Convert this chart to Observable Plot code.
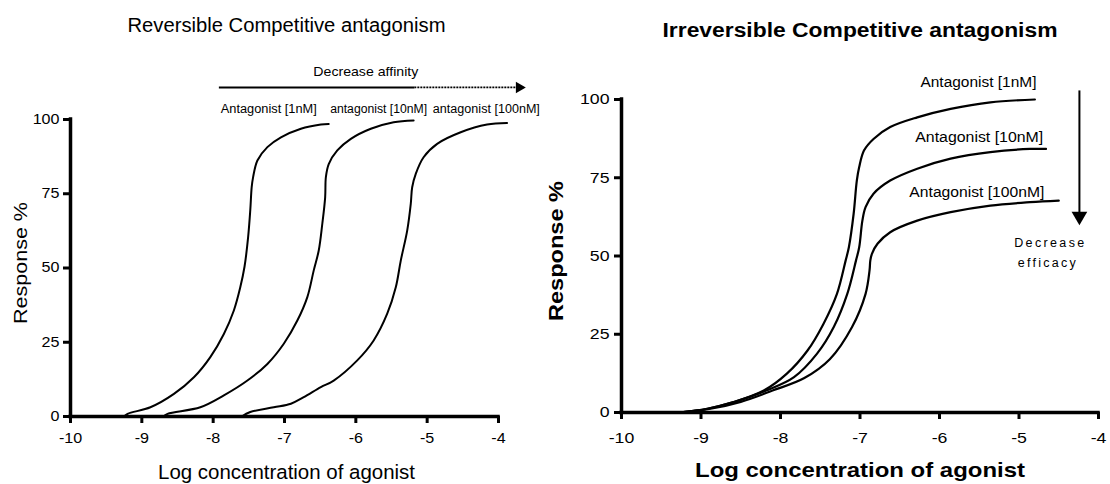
<!DOCTYPE html>
<html><head><meta charset="utf-8">
<script src="https://cdn.jsdelivr.net/npm/d3@7"></script>
<script src="https://cdn.jsdelivr.net/npm/@observablehq/plot@0.6"></script>
<style>
body{margin:0;background:#fff;}
#wrap{position:relative;width:1110px;height:484px;overflow:hidden;background:#fff;}
#left{position:absolute;left:0;top:0;}
#right{position:absolute;left:540px;top:0;}
svg{overflow:visible;}
</style></head><body><div id="wrap"><div id="left"></div><div id="right"></div></div>
<script>
// ---- data: reversible competitive antagonism ----
const revSeries = ["1nM", "10nM", "100nM"];
const revX1 = [-9.25,-9.2,-8.88,-8.55,-8.27,-8.04,-7.85,-7.71,-7.62,-7.56,-7.51,-7.48,-7.46,-7.44,-7.38,-7.24,-7.05,-6.77,-6.49,-6.38];
const revY1 = [0,0.9,3.1,7.6,13.2,20.0,27.8,35.7,43.5,50.5,60.4,69.4,77.2,80.6,86.2,90.7,94,96.9,98.3,98.5];
const revX2 = [-8.7,-8.64,-8.18,-7.85,-7.52,-7.24,-7.01,-6.82,-6.68,-6.59,-6.52,-6.47,-6.43,-6.42,-6.38,-6.26,-6.07,-5.79,-5.47,-5.19];
const revY2 = [0,0.9,3.1,7.1,12.1,17.7,24.5,32.3,40.2,49.2,55.9,64.9,73.8,80.6,85.0,89.6,93.5,96.9,99.1,99.7];
const revX3 = [-7.6,-7.48,-7.15,-6.91,-6.73,-6.49,-6.31,-5.98,-5.75,-5.56,-5.44,-5.37,-5.28,-5.23,-5.21,-5.16,-5.05,-4.86,-4.53,-4.16,-3.88];
const revY3 = [0,1.5,3.1,4.3,6.5,9.9,12.1,18.9,25.6,34.6,43.5,52.5,62.6,71.6,77.2,81.7,87.3,91.8,95.7,98.3,98.8];
const revLabels = ["Antagonist [1nM]", "antagonist [10nM]", "antagonist [100nM]"];

// ---- data: irreversible competitive antagonism ----
const irrSeries = ["1nM", "10nM", "100nM"];
const irrX1 = [-9.28,-8.92,-8.59,-8.21,-7.92,-7.66,-7.46,-7.29,-7.18,-7.14,-7.08,-7.04,-7.01,-6.95,-6.83,-6.62,-6.28,-5.86,-5.36,-4.80];
const irrY1 = [0,1.2,3.3,7.0,12.4,19.8,28.3,37.9,48.6,52.8,63.5,74.1,78.4,83.7,87.4,91.2,94.3,97.0,99.1,100];
const irrX2 = [-9.28,-8.92,-8.59,-8.18,-7.83,-7.54,-7.33,-7.16,-7.05,-7.01,-6.97,-6.93,-6.83,-6.62,-6.28,-5.86,-5.36,-4.86,-4.66];
const irrY2 = [0,1.2,3.3,7.0,11.3,18.8,27.3,37.9,48.6,52.8,61.3,65.6,69.9,74.1,77.9,81.1,83.2,84.2,84.2];
const irrX3 = [-9.28,-8.88,-8.5,-8.1,-7.7,-7.38,-7.1,-6.93,-6.88,-6.87,-6.85,-6.78,-6.62,-6.28,-5.86,-5.36,-4.86,-4.50];
const irrY3 = [0,1.2,3.4,7.0,11.0,17.0,27.3,37.9,45.4,48.6,50.7,53.9,57.6,61.3,64.0,66.1,67.2,67.7];
const irrLabels = ["Antagonist [1nM]", "Antagonist [10nM]", "Antagonist [100nM]"];

// ---- axes ----
const xTicks = [-10,-9,-8,-7,-6,-5,-4];
const yTicks = [0,25,50,75,100];

function rows(series, xs, ys) {
  const out = [];
  series.forEach((s, i) => xs[i].forEach((x, j) => out.push({series: s, x, y: ys[i][j]})));
  return out;
}
const revRows = rows(revSeries, [revX1, revX2, revX3], [revY1, revY2, revY3]);
const irrRows = rows(irrSeries, [irrX1, irrX2, irrX3], [irrY1, irrY2, irrY3]);

// annotation anchor positions (data units)
const revLabelPos = [{x:-7.22,y:103.7},{x:-5.68,y:103.7},{x:-4.17,y:103.7}];
const irrLabelPos = [{x:-5.51,y:105.4},{x:-5.50,y:87.9},{x:-5.53,y:70.3}];

const FONT = '"Liberation Sans",Arial,Helvetica,sans-serif';
const fmt = d => String(d);

// axis frame: thick axis lines + outward ticks, drawn from the scales
function axisFrame(fs, pad) {
  return [
    Plot.ruleX([-10], {y1: 0, y2: 100, strokeWidth: 3.5, strokeLinecap: "square"}),
    Plot.ruleY([0], {x1: -10, x2: -4, strokeWidth: 3.5, strokeLinecap: "square"}),
    Plot.ruleY(yTicks, {y: d => d, x1: -10, x2: -10, insetLeft: -7, strokeWidth: 3}),
    Plot.ruleX(xTicks, {x: d => d, y1: 0, y2: 0, insetBottom: -7, strokeWidth: 3}),
    Plot.axisX({ticks: xTicks, tickFormat: fmt, tickSize: 0, fontSize: fs, tickPadding: pad.x, label: null, className: "xtl"}),
    Plot.axisY({ticks: yTicks, tickFormat: fmt, tickSize: 0, fontSize: fs, tickPadding: pad.y, label: null, className: "ytl"})
  ];
}

// horizontal stretch of text (reference glyphs are wide)
function stretch(svg, selector, spec, adjust = "spacingAndGlyphs") {
  d3.select(svg).selectAll(selector).each(function(d, i) {
    const nat = this.getComputedTextLength();
    const L = Array.isArray(spec) ? spec[Math.min(i, spec.length - 1)] : nat * spec;
    d3.select(this).attr("textLength", L).attr("lengthAdjust", adjust);
  });
}

const leftPlot = Plot.plot({
  width: 540, height: 484,
  marginLeft: 70, marginRight: 42, marginTop: 119, marginBottom: 68,
  style: {fontFamily: FONT, background: "white", color: "black", overflow: "visible"},
  x: {domain: [-10, -4]},
  y: {domain: [0, 100]},
  marks: [
    Plot.line(revRows, {x: "x", y: "y", z: "series", stroke: "black", strokeWidth: 2, curve: "catmull-rom"}),
    ...axisFrame(14, {x: 17, y: 11}),
    Plot.text(["Reversible Competitive antagonism"], {frameAnchor: "top", lineAnchor: "middle", dy: -94, dx: 2, fontSize: 20, className: "t-title"}),
    Plot.text(["Response %"], {frameAnchor: "left", textAnchor: "middle", lineAnchor: "middle", rotate: -90, dx: -49, dy: -5, fontSize: 18, className: "t-ylab"}),
    Plot.text(["Log concentration of agonist"], {frameAnchor: "bottom", lineAnchor: "middle", dy: 56, dx: 2, fontSize: 20.5, className: "t-xlab"}),
    Plot.text(revLabels, {x: (d, i) => revLabelPos[i].x, y: (d, i) => revLabelPos[i].y, text: d => d, fontSize: 12.5, className: "t-lab"}),
    Plot.text(["Decrease affinity"], {x: -5.86, y: 116.2, fontSize: 13.5, className: "t-dec"}),
    Plot.link([0], {x1: -7.92, x2: -5.18, y1: 110.8, y2: 110.8, strokeWidth: 2}),
    Plot.link([0], {x1: -5.18, x2: -3.74, y1: 110.8, y2: 110.8, strokeWidth: 1.6, strokeDasharray: "2,1"}),
    Plot.dot([0], {x: -3.71, y: 110.8, symbol: "triangle2", r: 5.5, fill: "black", rotate: 90})
  ]
});
document.getElementById("left").appendChild(leftPlot);
stretch(leftPlot, ".t-title text", [318]);
stretch(leftPlot, ".t-ylab text", [122]);
stretch(leftPlot, ".t-xlab text", [257]);
stretch(leftPlot, ".t-lab text", [96, 97, 107]);
stretch(leftPlot, ".t-dec text", [105]);
stretch(leftPlot, ".xtl text, .ytl text", 1.15);

const rightPlot = Plot.plot({
  width: 570, height: 484,
  marginLeft: 81, marginRight: 12, marginTop: 99, marginBottom: 72,
  style: {fontFamily: FONT, background: "white", color: "black", overflow: "visible"},
  x: {domain: [-10, -4]},
  y: {domain: [0, 100]},
  marks: [
    Plot.line(irrRows, {x: "x", y: "y", z: "series", stroke: "black", strokeWidth: 2.2, curve: "catmull-rom"}),
    ...axisFrame(15, {x: 20, y: 12}),
    Plot.text(["Irreversible Competitive antagonism"], {frameAnchor: "top", lineAnchor: "middle", dy: -69, fontSize: 20, fontWeight: "bold", className: "t-title"}),
    Plot.text(["Response %"], {frameAnchor: "left", textAnchor: "middle", lineAnchor: "middle", rotate: -90, dx: -65, dy: -5, fontSize: 20, fontWeight: "bold", className: "t-ylab"}),
    Plot.text(["Log concentration of agonist"], {frameAnchor: "bottom", lineAnchor: "middle", dy: 58, fontSize: 21, fontWeight: "bold", className: "t-xlab"}),
    Plot.text(irrLabels, {x: (d, i) => irrLabelPos[i].x, y: (d, i) => irrLabelPos[i].y, text: d => d, fontSize: 14, className: "t-lab"}),
    Plot.link([0], {x1: -4.24, x2: -4.24, y1: 102.9, y2: 64, strokeWidth: 2}),
    Plot.dot([0], {x: -4.24, y: 62.7, symbol: "triangle2", r: 7.5, fill: "black", rotate: 180}),
    Plot.text(["Decrease"], {x: -4.62, y: 54.3, fontSize: 12.5, className: "t-dec1"}),
    Plot.text(["efficacy"], {x: -4.65, y: 47.9, fontSize: 12.5, className: "t-dec2"})
  ]
});
document.getElementById("right").appendChild(rightPlot);
stretch(rightPlot, ".t-title text", [395]);
stretch(rightPlot, ".t-ylab text", [140]);
stretch(rightPlot, ".t-xlab text", [330]);
stretch(rightPlot, ".t-lab text", [116, 128, 135]);
stretch(rightPlot, ".t-dec1 text", [70], "spacing");
stretch(rightPlot, ".t-dec2 text", [58], "spacing");
stretch(rightPlot, ".xtl text, .ytl text", 1.18);
</script></body></html>
